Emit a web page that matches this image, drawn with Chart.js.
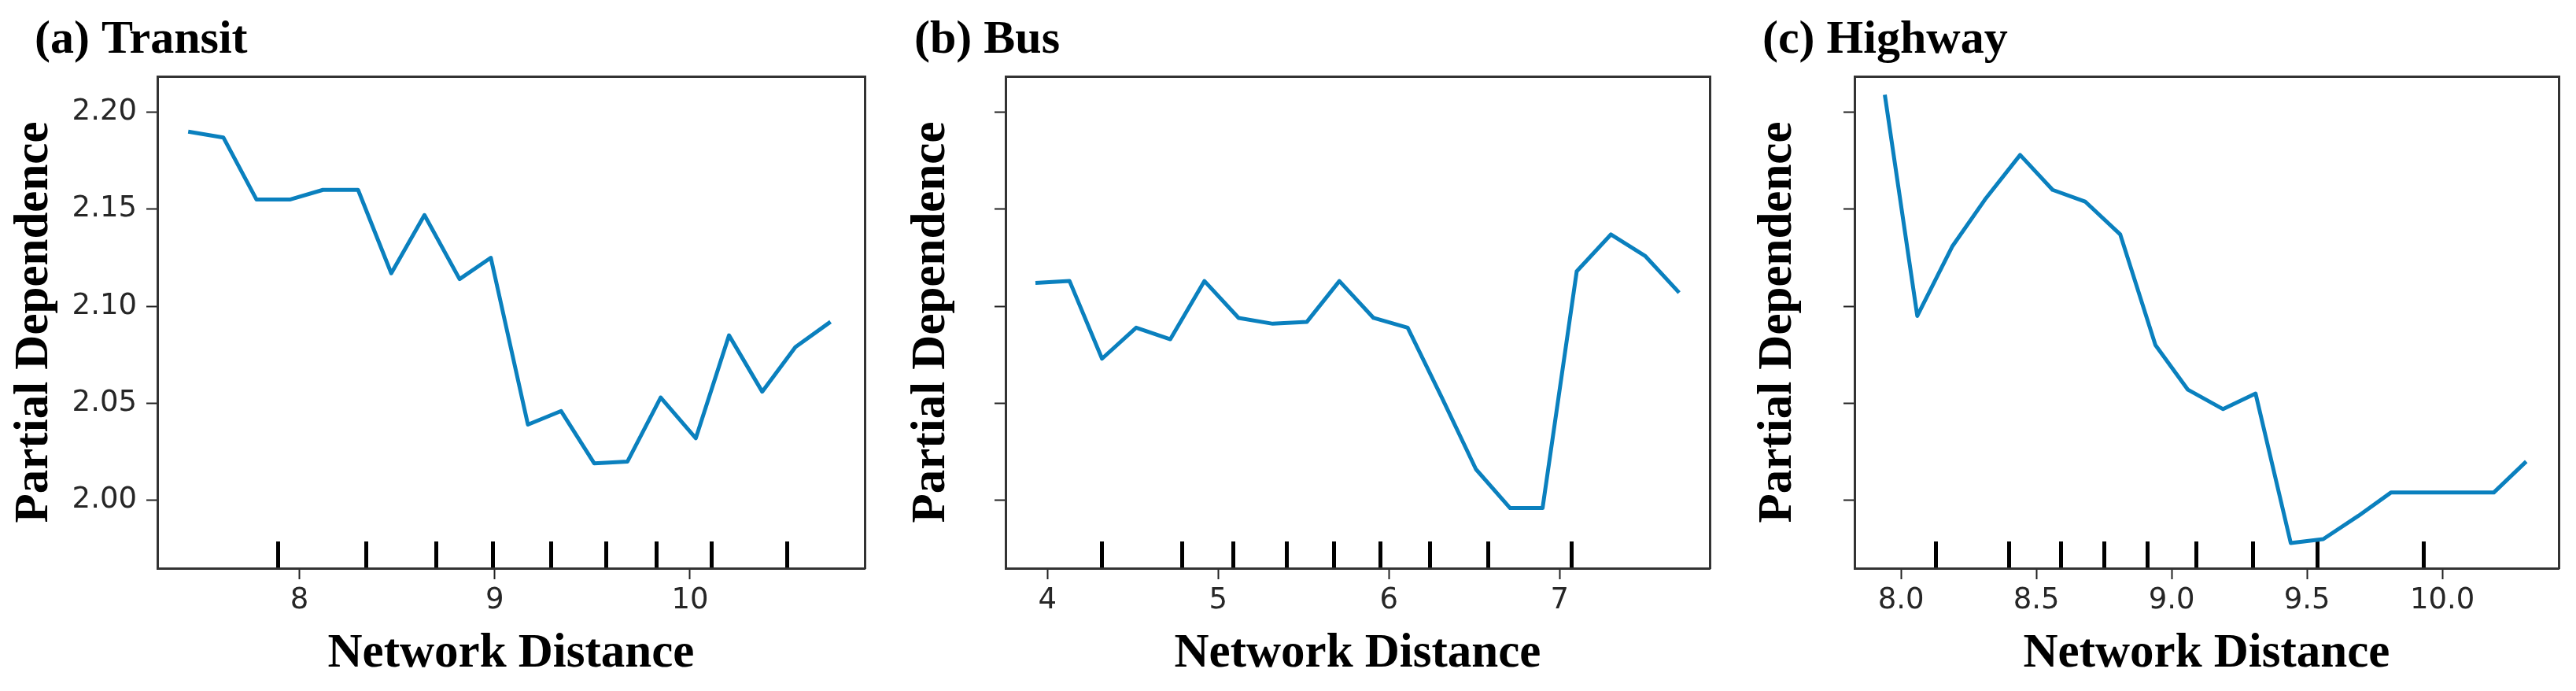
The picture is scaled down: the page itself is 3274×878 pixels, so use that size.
<!DOCTYPE html>
<html>
<head>
<meta charset="utf-8">
<script src="https://cdn.jsdelivr.net/npm/chart.js@4.4.1/dist/chart.umd.min.js"></script>
<style>
  html, body { margin: 0; padding: 0; background: #fff; }
  #wrap { position: relative; width: 3274px; height: 878px; overflow: hidden; }
  canvas { position: absolute; top: 0; }
</style>
</head>
<body>
<div id="wrap">
  <canvas id="transit"></canvas>
  <canvas id="bus"></canvas>
  <canvas id="highway"></canvas>
</div>
<script>
// partial dependence curves
const transitX = [7.43, 7.61, 7.78, 7.95, 8.12, 8.30, 8.47, 8.64, 8.82, 8.98, 9.17, 9.34, 9.51, 9.68, 9.85, 10.03, 10.20, 10.37, 10.54, 10.72]
const transitY = [2.190, 2.187, 2.155, 2.155, 2.160, 2.160, 2.117, 2.147, 2.114, 2.125, 2.039, 2.046, 2.019, 2.020, 2.053, 2.032, 2.085, 2.056, 2.079, 2.092]
const transitRug = [7.89, 8.34, 8.70, 8.99, 9.29, 9.57, 9.83, 10.11, 10.50]
const transitTicks = [8, 9, 10]

const busX = [3.93, 4.13, 4.32, 4.52, 4.72, 4.92, 5.12, 5.32, 5.52, 5.71, 5.91, 6.11, 6.31, 6.51, 6.71, 6.90, 7.10, 7.30, 7.50, 7.70]
const busY = [2.112, 2.113, 2.073, 2.089, 2.083, 2.113, 2.094, 2.091, 2.092, 2.113, 2.094, 2.089, 2.053, 2.016, 1.996, 1.996, 2.118, 2.137, 2.126, 2.107]
const busRug = [4.32, 4.79, 5.09, 5.40, 5.68, 5.95, 6.24, 6.58, 7.07]
const busTicks = [4, 5, 6, 7]

const highwayX = [7.94, 8.06, 8.19, 8.31, 8.44, 8.56, 8.68, 8.81, 8.94, 9.06, 9.19, 9.31, 9.44, 9.56, 9.69, 9.81, 9.93, 10.06, 10.19, 10.31]
const highwayY = [2.209, 2.095, 2.131, 2.155, 2.178, 2.160, 2.154, 2.137, 2.080, 2.057, 2.047, 2.055, 1.978, 1.980, 1.992, 2.004, 2.004, 2.004, 2.004, 2.020]
const highwayRug = [8.13, 8.40, 8.59, 8.75, 8.91, 9.09, 9.30, 9.54, 9.93]
const highwayTicks = [8.0, 8.5, 9.0, 9.5, 10.0]

// shared y axis
const yTicks = [2.00, 2.05, 2.10, 2.15, 2.20]
const yMin = 1.965
const yMax = 2.2185

const lineColor = '#0a80be'
const frameColor = '#333'
const serif = '"Liberation Serif", "Times New Roman", serif'
const sans = '"DejaVu Sans", sans-serif'
const H = 878
const plotTop = 97
const plotBottom = 722

// "(a) Transit" etc, drawn above the frame
const panelTitle = {
  id: 'panelTitle',
  afterDraw(chart, args, opts) {
    const ctx = chart.ctx
    ctx.save()
    ctx.font = 'bold 60px ' + serif
    ctx.fillStyle = '#000'
    ctx.textAlign = 'left'
    ctx.textBaseline = 'alphabetic'
    ctx.fillText(opts.text, opts.x, opts.y)
    ctx.restore()
  }
}

function frameAxis(position) {
  const horiz = position === 'top'
  return {
    type: 'linear',
    position: position,
    display: true,
    ticks: { display: false },
    grid: { display: false },
    border: { display: true, color: frameColor, width: 3 },
    afterFit: s => { if (horiz) s.height = 0; else s.width = 0 }
  }
}

function makePanel(id, p) {
  const canvas = document.getElementById(id)
  canvas.width = p.width
  canvas.height = H
  canvas.style.left = p.left + 'px'

  return new Chart(canvas.getContext('2d'), {
    type: 'line',
    data: {
      datasets: [{
        data: p.xs.map((x, i) => ({ x: x, y: p.ys[i] })),
        borderColor: lineColor,
        borderWidth: 5,
        pointRadius: 0,
        tension: 0,
        fill: false,
        borderJoinStyle: 'round',
        xAxisID: 'x',
        yAxisID: 'y'
      }]
    },
    options: {
      responsive: false,
      animation: false,
      devicePixelRatio: 1,
      events: [],
      layout: { padding: { top: plotTop, right: 10, bottom: 0, left: 0 } },
      plugins: {
        legend: { display: false },
        tooltip: { enabled: false },
        panelTitle: { text: p.title, x: p.titleX, y: 67 }
      },
      scales: {
        x: {
          type: 'linear',
          position: 'bottom',
          min: p.xMin,
          max: p.xMax,
          afterFit: s => { s.height = H - plotBottom },
          afterBuildTicks: s => { s.ticks = p.xTicks.map(v => ({ value: v })) },
          ticks: {
            autoSkip: false,
            maxRotation: 0,
            padding: 5,
            color: '#262626',
            font: { family: sans, size: 37 },
            callback: v => v.toFixed(p.digits)
          },
          grid: { drawOnChartArea: false, drawTicks: true, tickLength: 14, tickWidth: 2, tickColor: '#222' },
          border: { display: true, color: frameColor, width: 3 },
          title: {
            display: true,
            text: 'Network Distance',
            color: '#000',
            font: { family: serif, size: 61, weight: 'bold' },
            padding: { top: 0, bottom: 10 }
          }
        },
        // decile rug marks along the bottom edge
        rug: {
          type: 'linear',
          position: 'bottom',
          display: true,
          weight: -1,
          min: p.xMin,
          max: p.xMax,
          afterFit: s => { s.height = 0 },
          afterBuildTicks: s => { s.ticks = p.rug.map(v => ({ value: v })) },
          ticks: { display: false, autoSkip: false },
          grid: { drawOnChartArea: false, drawTicks: true, tickLength: -34, lineWidth: 5, color: '#000' },
          border: { display: false }
        },
        top: frameAxis('top'),
        y: {
          type: 'linear',
          position: 'left',
          min: yMin,
          max: yMax,
          afterFit: s => { s.width = p.yWidth },
          afterBuildTicks: s => { s.ticks = yTicks.map(v => ({ value: v })) },
          ticks: {
            display: p.yLabels,
            autoSkip: false,
            padding: 12,
            color: '#262626',
            font: { family: sans, size: 37 },
            callback: v => v.toFixed(2)
          },
          grid: { drawOnChartArea: false, drawTicks: true, tickLength: 14, tickWidth: 2, tickColor: '#222' },
          border: { display: true, color: frameColor, width: 3 },
          title: {
            display: true,
            text: 'Partial Dependence',
            color: '#000',
            font: { family: serif, size: 61, weight: 'bold' },
            padding: { top: 0, bottom: 0 }
          }
        },
        right: frameAxis('right')
      }
    },
    plugins: [panelTitle]
  })
}

makePanel('transit', {
  left: 8, width: 1101, yWidth: 192, title: '(a) Transit', titleX: 36,
  xs: transitX, ys: transitY, rug: transitRug, xTicks: transitTicks, digits: 0,
  xMin: 7.272, xMax: 10.895, yLabels: true
})

makePanel('bus', {
  left: 1148, width: 1035, yWidth: 130, title: '(b) Bus', titleX: 14,
  xs: busX, ys: busY, rug: busRug, xTicks: busTicks, digits: 0,
  xMin: 3.755, xMax: 7.879, yLabels: false
})

makePanel('highway', {
  left: 2224, width: 1038, yWidth: 133, title: '(c) Highway', titleX: 16,
  xs: highwayX, ys: highwayY, rug: highwayRug, xTicks: highwayTicks, digits: 1,
  xMin: 7.828, xMax: 10.43, yLabels: false
})
</script>
</body>
</html>
